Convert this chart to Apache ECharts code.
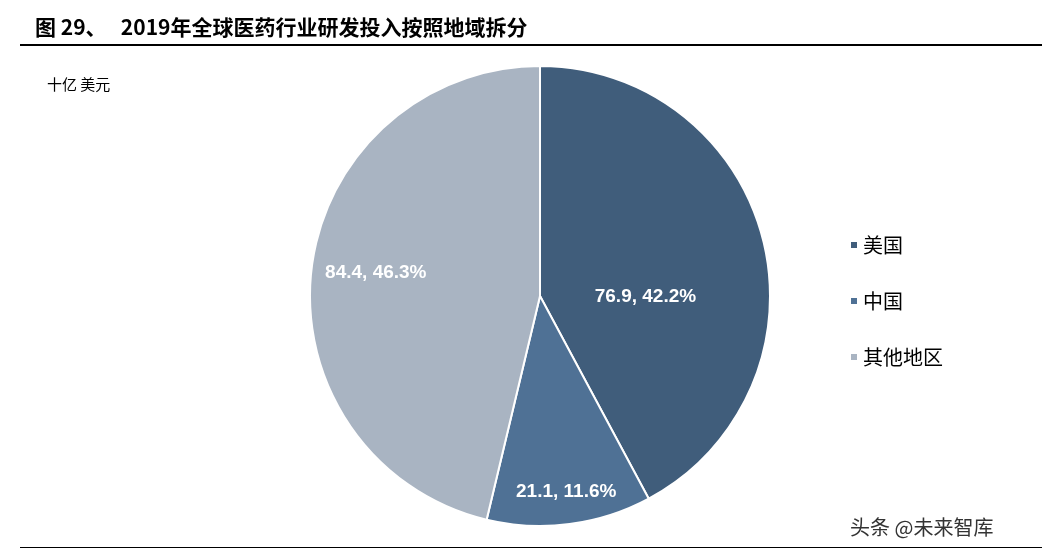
<!DOCTYPE html>
<html><head><meta charset="utf-8">
<script src="https://cdn.jsdelivr.net/npm/echarts@6/dist/echarts.min.js"></script>
<style>html,body{margin:0;padding:0;background:#fff}#main{width:1052px;height:556px}</style>
</head><body><div id="main"></div>
<script>
var regions = ['美国', '中国', '其他地区'];
var spend = [76.9, 21.1, 84.4];
var shares = ['42.2%', '11.6%', '46.3%'];
var colors = ['#405D7B', '#4F7195', '#A9B4C2'];
// label nudges to match the reference placement
var labelOffsets = [[-9, 30], [11, 79], [-47, -9]];

var chart = echarts.init(document.getElementById('main'));
var data = regions.map(function (r, i) {
    return { name: r, value: spend[i], share: shares[i], itemStyle: { color: colors[i] },
             label: { offset: labelOffsets[i] } };
});

option = {
    backgroundColor: '#fff',
    title: [{
        text: '图 29、   2019年全球医药行业研发投入按照地域拆分',
        left: 30, top: 12,
        textStyle: { fontSize: 21, fontWeight: 'bold', color: '#000', fontFamily: 'Noto Sans CJK SC' }
    }, {
        text: '十亿 美元', left: 42, top: 72,
        textStyle: { fontSize: 15, fontWeight: 'normal', color: '#000', fontFamily: 'Noto Sans CJK SC' }
    }, {
        text: '头条 @未来智库', left: 845, top: 512,
        textStyle: { fontSize: 20, fontWeight: 'normal', color: '#333', fontFamily: 'Noto Sans CJK SC' }
    }],
    graphic: [
        { type: 'rect', shape: { x: 20, y: 44, width: 1022, height: 2 }, style: { fill: '#000' } },
        { type: 'rect', shape: { x: 20, y: 547, width: 1022, height: 1 }, style: { fill: '#000' } }
    ],
    legend: {
        orient: 'vertical', left: 844, top: 230, itemGap: 36,
        itemWidth: 8, itemHeight: 8, icon: 'rect',
        textStyle: { fontSize: 20, color: '#000', fontFamily: 'Noto Sans CJK SC' },
        data: regions
    },
    series: [{
        type: 'pie', center: [540, 296], radius: [0, 230],
        startAngle: 90, clockwise: true,
        itemStyle: { borderColor: '#fff', borderWidth: 2 },
        label: {
            position: 'inside', color: '#fff', fontSize: 19, fontWeight: 'bold',
            fontFamily: 'Liberation Sans',
            formatter: function (p) { return p.value + ', ' + p.data.share; }
        },
        labelLine: { show: false },
        data: data
    }]
};
chart.setOption(option);
</script></body></html>
